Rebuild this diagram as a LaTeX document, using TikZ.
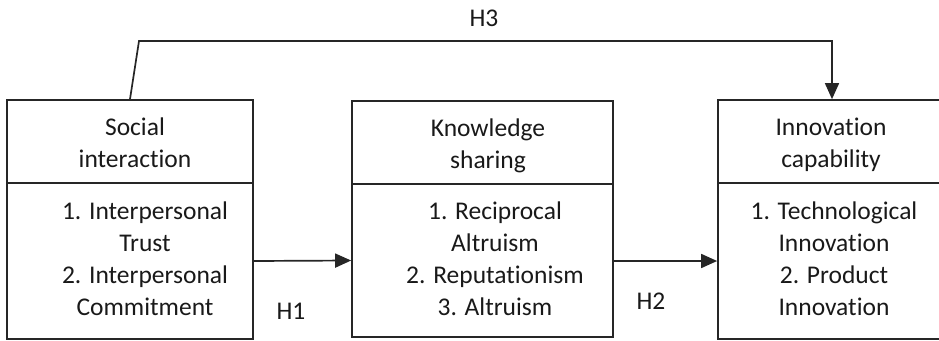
\documentclass[tikz,border=0pt]{standalone}
\usepackage{fontspec}
\setmainfont{Carlito}[Ligatures=NoCommon]
\usetikzlibrary{arrows.meta}
\begin{document}
\begin{tikzpicture}[x=1pt,y=-1pt,
  line width=1.7pt, draw=black!85,
  box/.style={draw, inner sep=0pt},
  txt/.style={align=center, inner sep=0pt, anchor=base, text=black!90, font=\fontsize{25.5}{32}\selectfont},
  lbl/.style={inner sep=0pt, anchor=base, text=black!90, font=\fontsize{25.5}{32}\selectfont},
  arr/.style={-{Triangle[length=16pt,width=14pt]}}]
\useasboundingbox (0,0) rectangle (939,340);
% boxes
\node[box, minimum width=246pt, minimum height=239pt] (si) at (130,219.5) {};
\node[box, minimum width=261pt, minimum height=236pt] (ks) at (482.5,219) {};
\node[box, minimum width=228pt, minimum height=239pt] (ic) at (832,219.5) {};
% dividers
\draw (si.west |- 0,183) -- (si.east |- 0,183);
\draw (ks.west |- 0,184) -- (ks.east |- 0,184);
\draw (ic.west |- 0,183) -- (ic.east |- 0,183);
% texts (anchor base = baseline of the last line)
\node[txt] (sit) at (135,167) {Social\\interaction};
\node[txt] (sii) at (145,315) {1. Interpersonal\\Trust\\2. Interpersonal\\Commitment};
\node[txt] (kst) at (488,168) {Knowledge\\sharing};
\node[txt] (ksi) at (495,315) {1. Reciprocal\\Altruism\\2. Reputationism\\3. Altruism};
\node[txt] (ict) at (831,167) {Innovation\\capability};
\node[txt] (ici) at (834,315) {1. Technological\\Innovation\\2. Product\\Innovation};
% connectors
\coordinate (h3a) at (139,41);
\coordinate (h3b) at (832,41);
\draw[arr] (si.north) -- (h3a) -- (h3b) -- (h3b |- ic.north);
\draw[arr] (si.east |- 0,261) -- (ks.west |- 0,260.5);
\draw[arr] (ks.east |- 0,261) -- (ic.west |- 0,261);
% labels
\node[lbl] (h3) at (484,27) {H3};
\node[lbl] (h1) at (291,319) {H1};
\node[lbl] (h2) at (651,309) {H2};
\end{tikzpicture}
\end{document}
